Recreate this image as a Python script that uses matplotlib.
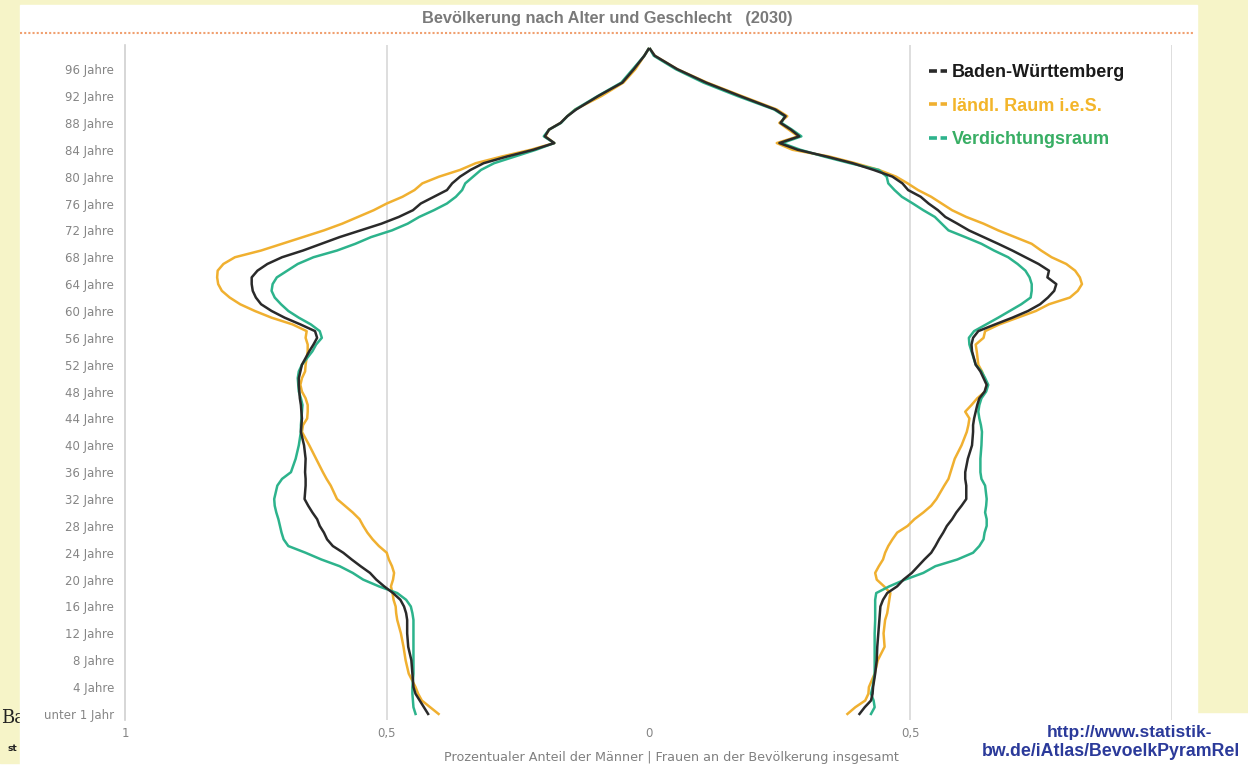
import matplotlib
matplotlib.use("Agg")
import matplotlib.pyplot as plt
from matplotlib.lines import Line2D
from matplotlib.patches import Rectangle

# Alter (Jahre)
ages = [0, 1, 2, 3, 4, 6, 8, 10, 12, 14,
        15, 16, 17, 18, 19, 20, 21, 22, 23, 24, 25, 26, 27, 28, 29, 30, 31, 32,
        34, 35, 36, 38, 40, 42, 43, 44, 45, 46, 47, 48, 49, 50, 51, 52,
        54, 55, 56, 57, 58, 59, 60, 61, 62, 63, 64, 65, 66, 67, 68, 69, 70,
        71, 72, 73, 74, 75, 76, 77, 78, 79, 80, 81, 82, 83, 84, 85, 86, 87,
        88, 89, 90, 92, 94, 96, 98, 99]

# Männer (Prozent)
m_bw = [.421, .429, .437, .445, .449, .451, .453, .459, .461, .461,
        .463, .467, .474, .488, .505, .52, .532, .55, .567, .583, .603, .614, .62, .628, .633, .642, .65, .657,
        .655, .655, .656, .655, .658, .664, .663, .662, .663, .664, .666, .667, .668, .668, .665, .662,
        .648, .64, .633, .637, .665, .695, .72, .74, .75, .756, .758, .758, .747, .728, .70, .66, .625,
        .59, .55, .51, .477, .45, .435, .41, .385, .375, .36, .34, .315, .27, .22, .18, .198, .19,
        .168, .155, .138, .096, .05, .028, .008, 0.0]
m_land = [.401, .417, .433, .44, .445, .458, .464, .468, .473, .48,
          .482, .483, .487, .489, .492, .488, .486, .49, .496, .5, .515, .527, .537, .545, .552, .565, .58, .595,
          .607, .615, .622, .635, .648, .662, .66, .652, .651, .651, .655, .662, .665, .662, .656, .655,
          .651, .651, .655, .653, .68, .72, .752, .78, .80, .815, .822, .824, .823, .812, .79, .74, .70,
          .66, .62, .585, .555, .525, .50, .47, .447, .432, .40, .36, .33, .28, .225, .18, .197, .19,
          .168, .155, .14, .09, .048, .025, .008, 0.0]
m_verd = [.445, .449, .45, .451, .451, .449, .449, .449, .449, .449,
          .451, .454, .463, .48, .515, .545, .565, .59, .625, .655, .688, .697, .701, .704, .707, .711, .714, .715,
          .709, .70, .683, .674, .668, .664, .664, .663, .662, .661, .664, .668, .669, .67, .668, .662,
          .642, .635, .624, .628, .645, .668, .688, .702, .714, .72, .718, .71, .69, .67, .64, .595, .56,
          .53, .49, .46, .438, .41, .385, .368, .356, .35, .335, .32, .295, .255, .215, .18, .20, .19,
          .167, .155, .14, .097, .052, .03, .008, 0.0]

# Frauen (Prozent)
w_bw = [.403, .413, .425, .428, .429, .433, .436, .437, .439, .441,
        .442, .443, .448, .456, .475, .487, .503, .515, .527, .54, .548, .555, .563, .57, .58, .588, .598, .607,
        .607, .605, .605, .61, .618, .62, .62, .622, .625, .628, .632, .642, .646, .64, .634, .625,
        .618, .617, .62, .63, .662, .695, .725, .748, .763, .775, .779, .762, .765, .745, .72, .695, .668,
        .64, .612, .59, .567, .553, .535, .52, .496, .485, .466, .43, .39, .34, .285, .25, .288, .272,
        .252, .262, .242, .175, .11, .055, .012, .003]
w_land = [.38, .395, .414, .42, .421, .432, .438, .451, .449, .452,
          .456, .458, .46, .462, .45, .436, .433, .44, .448, .452, .458, .466, .475, .495, .508, .525, .54, .55,
          .565, .573, .577, .585, .598, .608, .611, .613, .605, .617, .628, .643, .646, .642, .637, .63,
          .627, .625, .64, .643, .67, .705, .74, .765, .805, .82, .828, .824, .815, .798, .77, .75, .732,
          .70, .668, .64, .607, .58, .56, .54, .515, .495, .473, .44, .395, .345, .275, .245, .286, .268,
          .25, .265, .245, .178, .112, .055, .012, .003]
w_verd = [.425, .432, .43, .425, .428, .432, .432, .432, .432, .433,
          .433, .433, .433, .435, .46, .49, .525, .548, .59, .62, .632, .64, .642, .646, .646, .643, .645, .646,
          .643, .636, .634, .634, .636, .637, .635, .632, .63, .632, .636, .645, .649, .643, .636, .625,
          .617, .613, .612, .622, .645, .668, .69, .712, .73, .732, .732, .728, .72, .705, .687, .66, .636,
          .605, .573, .56, .547, .525, .505, .484, .47, .458, .455, .44, .385, .335, .29, .255, .292, .274,
          .254, .26, .24, .17, .105, .052, .01, .003]

series = ["Baden-Württemberg", "ländl. Raum i.e.S.", "Verdichtungsraum"]
line_colors = ["#2a2a2a", "#f0b030", "#2db38c"]
text_colors = ["#1a1a1a", "#f3b52a", "#38ae64"]

tick_ages = list(range(0, 97, 4))
tick_labels = ["unter 1 Jahr"] + [f"{a} Jahre" for a in tick_ages[1:]]

W, H = 1248, 767
fig = plt.figure(figsize=(W / 100, H / 100), dpi=100, facecolor="white")

def fx(px):
    return px / W

def fy(py):
    return 1 - py / H

# Hintergrund (gelbe Folie, weisses Panel)
yellow = "#f6f4c8"
fig.patches.append(Rectangle((0, fy(712)), 1, 1 - fy(712), transform=fig.transFigure,
                             color=yellow, zorder=-3))
fig.patches.append(Rectangle((0, fy(763)), fx(20), fy(712) - fy(763), transform=fig.transFigure,
                             color=yellow, zorder=-3))
fig.text(fx(1), fy(723), "Ba", family="DejaVu Serif", fontsize=13, color="#222",
         zorder=-2)
fig.text(fx(8), fy(751), "st", family="DejaVu Sans", fontsize=6.5, fontweight="bold",
         color="#222", zorder=-2)
fig.patches.append(Rectangle((fx(20), 0), fx(1197) - fx(20), fy(5), transform=fig.transFigure,
                             color="white", zorder=-1))

ax = fig.add_axes([fx(125), fy(720), fx(1172) - fx(125), fy(45) - fy(720)])
ax.set_facecolor("white")

ax.plot([-v for v in m_land], ages, color=line_colors[1], lw=1.8, zorder=3)
ax.plot(w_land, ages, color=line_colors[1], lw=1.8, zorder=3)
ax.plot([-v for v in m_verd], ages, color=line_colors[2], lw=1.8, zorder=4)
ax.plot(w_verd, ages, color=line_colors[2], lw=1.8, zorder=4)
ax.plot([-v for v in m_bw], ages, color=line_colors[0], lw=1.8, zorder=5)
ax.plot(w_bw, ages, color=line_colors[0], lw=1.8, zorder=5)

ax.set_xlim(-1, 1)
ax.set_ylim(-0.9, 99.6)
for gx in [-0.5, 0.5, 1.0]:
    ax.axvline(gx, color="#d8d8d8", lw=1.2, zorder=1)

for s in ["top", "right", "bottom"]:
    ax.spines[s].set_visible(False)
ax.spines["left"].set_color("#d0d0d0")
ax.spines["left"].set_linewidth(1.2)

ax.set_xticks([-1, -0.5, 0, 0.5])
ax.set_xticklabels(["1", "0,5", "0", "0,5"])
ax.set_yticks(tick_ages)
ax.set_yticklabels(tick_labels)
ax.tick_params(axis="both", length=0, labelsize=8.5, labelcolor="#858585")
ax.tick_params(axis="y", pad=8)
ax.tick_params(axis="x", pad=5)

handles = [Line2D([], [], color=c, lw=2.6, linestyle=(0, (2.2, 1.0))) for c in line_colors]
leg = ax.legend(handles, series, loc="upper left", bbox_to_anchor=(0.752, 0.996),
                frameon=False, handlelength=1.0, handletextpad=0.3, labelspacing=0.92,
                prop={"family": "Liberation Sans", "weight": "bold", "size": 13})
for t, c in zip(leg.get_texts(), text_colors):
    t.set_color(c)

# Titel und Trennlinie
fig.text(fx(607), fy(18), "Bevölkerung nach Alter und Geschlecht   (2030)", ha="center",
         va="center", family="Liberation Sans", fontweight="bold", fontsize=11.8,
         color="#7a7a7a")
fig.add_artist(Line2D([fx(20), fx(1195)], [fy(33), fy(33)], transform=fig.transFigure,
                      color="#f0a070", lw=1.5, linestyle=(0, (1, 1))))

fig.text(fx(671), fy(757), "Prozentualer Anteil der Männer | Frauen an der Bevölkerung insgesamt",
         ha="center", va="center", fontsize=9.2, color="#808080")

fig.text(fx(1130), fy(733), "http://www.statistik-", ha="center", va="center",
         family="Liberation Sans", fontweight="bold", fontsize=12.5, color="#2b3a9a")
fig.text(fx(982), fy(751), "bw.de/iAtlas/BevoelkPyramRel", ha="left", va="center",
         family="Liberation Sans", fontweight="bold", fontsize=12.8, color="#2b3a9a")

fig.savefig("out.png", dpi=100, facecolor="white")
